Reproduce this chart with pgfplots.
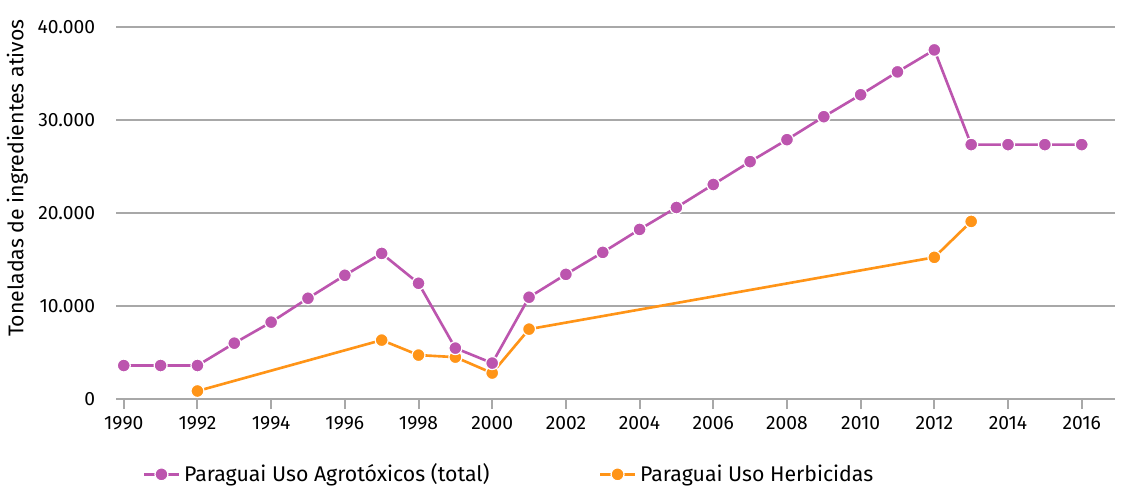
\documentclass[border=0pt]{standalone}
\usepackage{fontspec}
\setmainfont{Fira Sans}
\usepackage{pgfplots}
\pgfplotsset{compat=1.18}
\definecolor{agro}{HTML}{BC55AE}
\definecolor{herb}{HTML}{FF9417}
\definecolor{gridg}{HTML}{A8A8A8}
\begin{document}
\begin{tikzpicture}
\begin{axis}[
  scale only axis, width=493pt, height=186pt,
  xmin=1989.8, xmax=2016.9, ymin=0, ymax=40500,
  axis x line*=bottom, axis y line*=left,
  x axis line style={gridg, line width=1.2pt, -},
  y axis line style={draw=none},
  xtick={1990,1992,...,2016},
  xtick style={gridg, line width=1pt}, ytick style={draw=none},
  tick align=outside, major tick length=5pt,
  scaled y ticks=false,
  x tick label style={/pgf/number format/1000 sep={}, font=\fontsize{9.5}{12}\selectfont},
  ytick={0,10000,20000,30000,40000},
  ymajorgrids, grid style={gridg, line width=0.9pt},
  y tick label style={/pgf/number format/1000 sep={.}, font=\fontsize{9.5}{12}\selectfont, xshift=-2pt},
  /pgf/number format/assume math mode=true,
  ylabel={Toneladas de ingredientes ativos},
  ylabel style={font=\fontsize{10.5}{13}\selectfont, yshift=-2pt, xshift=16pt},
  legend style={at={(0.02,-0.2)}, anchor=west, draw=none, legend columns=2, fill=none,
    font=\fontsize{10.5}{13}\selectfont, /tikz/every even column/.append style={column sep=52pt}},
  legend cell align=left, reverse legend,
  clip=false,
]
\addplot[herb, line width=1.3pt, mark=*, mark size=3.2pt, mark options={fill=herb, draw=white, line width=0.6pt}]
coordinates {(1992,860) (1997,6330) (1998,4720) (1999,4500) (2000,2790) (2001,7510) (2012,15230) (2013,19090)};
\addplot[agro, line width=1.3pt, mark=*, mark size=3.2pt, mark options={fill=agro, draw=white, line width=0.6pt}]
coordinates {(1990,3600) (1991,3600) (1992,3600) (1993,6000) (1994,8260) (1995,10830) (1996,13300) (1997,15650) (1998,12440) (1999,5470) (2000,3860) (2001,10940) (2002,13400) (2003,15760) (2004,18230) (2005,20590) (2006,23060) (2007,25520) (2008,27880) (2009,30350) (2010,32710) (2011,35170) (2012,37530) (2013,27350) (2014,27350) (2015,27350) (2016,27350)};
\legend{Paraguai Uso Herbicidas, Paraguai Uso Agrotóxicos (total)}
\end{axis}
\path ([yshift=11pt]current axis.north east) ++(5pt,0pt);
\end{tikzpicture}
\end{document}
